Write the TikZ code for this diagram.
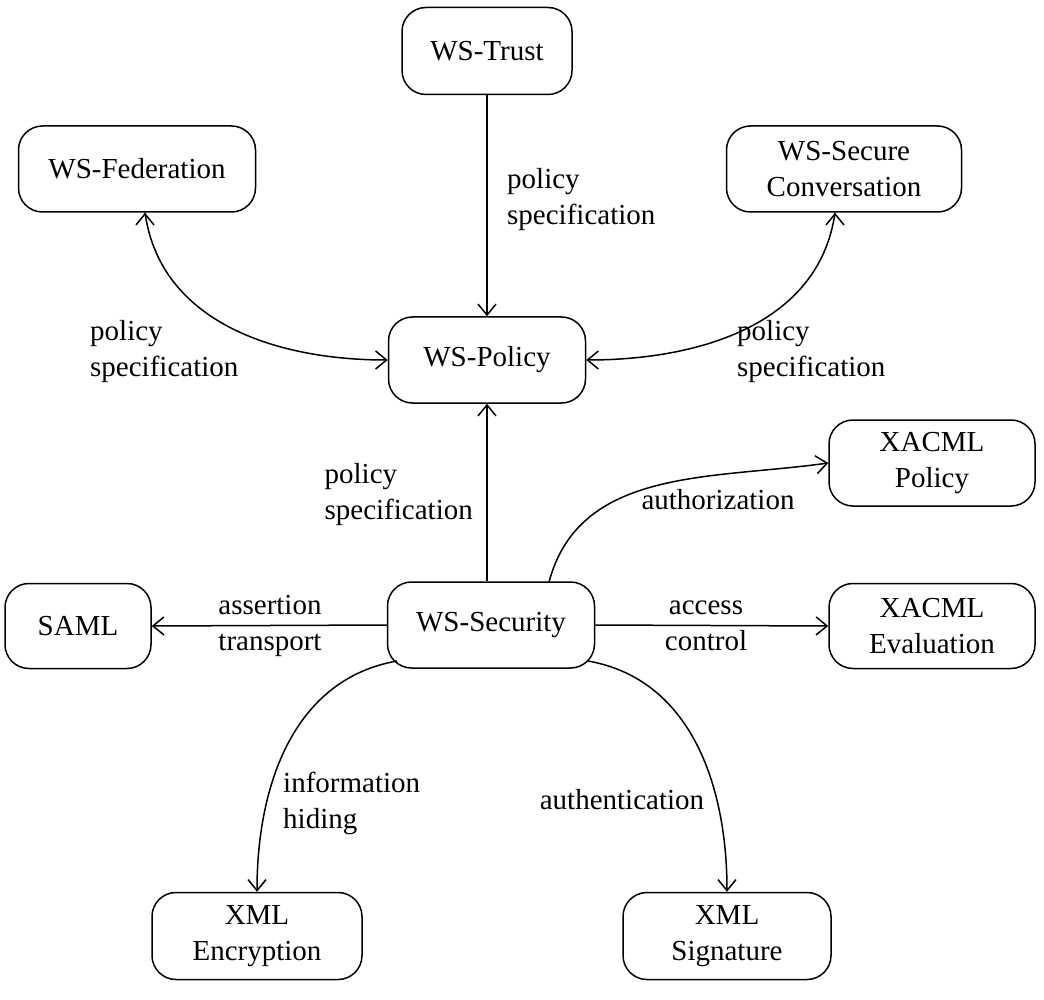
\documentclass[tikz,border=0pt]{standalone}
\usepackage{fontspec}
\setmainfont{Liberation Serif}
\usetikzlibrary{arrows.meta}
\begin{document}
\begin{tikzpicture}[x=1pt,y=-1pt,
  box/.style={draw,line width=1.5pt,rounded corners=24pt,align=center,inner sep=0pt},
  arr/.style={line width=1.5pt,-{Straight Barb[length=11pt,width=18pt,line width=1.5pt]}},
  lbl/.style={align=left,inner sep=0pt},
  every node/.style={font=\fontsize{29}{36}\selectfont}]
\useasboundingbox (0,0) rectangle (1044,1000);
\node[box,minimum width=170pt,minimum height=87pt] (trust) at (487,51) {WS-Trust};
\node[box,minimum width=237pt,minimum height=86pt] (fed) at (137,169) {WS-Federation};
\node[box,minimum width=235pt,minimum height=86pt] (conv) at (844,169) {WS-Secure\\Conversation};
\node[box,minimum width=197pt,minimum height=86pt] (pol) at (487,360) {WS-Policy};
\node[box,minimum width=206pt,minimum height=86pt] (xp) at (932,463) {XACML\\Policy};
\node[box,minimum width=146pt,minimum height=85pt] (saml) at (78,626) {SAML};
\node[box,minimum width=207pt,minimum height=86pt] (sec) at (491,625) {WS-Security};
\node[box,minimum width=206pt,minimum height=85pt] (xe) at (932,626) {XACML\\Evaluation};
\node[box,minimum width=210pt,minimum height=87pt] (enc) at (257,936) {XML\\Encryption};
\node[box,minimum width=208pt,minimum height=87pt] (sig) at (727,936) {XML\\Signature};

\draw[arr] (trust) -- (pol);
\node[lbl,anchor=west] at (507,200) {policy\\specification};
\draw[arr] (fed.south) ++(8,0) coordinate (f1);
\draw[arr] (f1) to[out=-82,in=180] (pol.west);
\node[lbl,anchor=west] at (90,352) {policy\\specification};
\draw[arr] (conv.south) ++(-9,0) coordinate (c1);
\draw[arr] (c1) to[out=-98,in=0] (pol.east);
\node[lbl,anchor=west] at (737,352) {policy\\specification};
\draw[arr] (sec.north -| pol) -- (pol.south);
\node[lbl,anchor=east] at (473,495) {policy\\specification};
\coordinate (s1) at (549,582);
\draw[arr] (s1) to[out=75,in=188] (xp.west);
\node[lbl,anchor=center] at (718,500) {authorization};
\draw[arr] (sec.west) -- (saml.east);
\node[align=center,inner sep=0pt] at (270,626) {assertion\\transport};
\draw[arr] (sec.east) -- (xe.west);
\node[align=center,inner sep=0pt] at (706,626) {access\\control};
\coordinate (s2) at (397,661);
\draw[arr] (s2) to[out=190,in=90] (enc.north);
\node[lbl,anchor=west] at (283,803) {information\\hiding};
\coordinate (s3) at (588,661);
\draw[arr] (s3) to[out=-10,in=90] (sig.north);
\node[lbl,anchor=center] at (622,800) {authentication};
\end{tikzpicture}
\end{document}
